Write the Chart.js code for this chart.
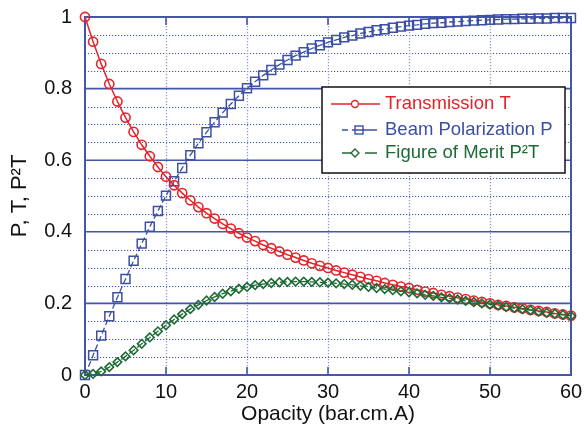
<!DOCTYPE html>
<html>
<head>
<meta charset="utf-8">
<script src="https://cdn.jsdelivr.net/npm/chart.js@4"></script>
<style>
  html, body { margin: 0; padding: 0; background: #fff; }
  #wrap { width: 585px; height: 438px; }
</style>
</head>
<body>
<div id="wrap"><canvas id="chart" width="585" height="438"></canvas></div>
<script>
/* Transmission, polarization and figure of merit vs opacity */
(function () {
  'use strict';

  var FONT = '"Liberation Sans", Arial, Helvetica, sans-serif';
  var RED = '#e3242b', BLUE = '#3c4fa3', GREEN = '#1d6b35';
  var GRID = '#4456aa', GRID_LIGHT = '#8d98cf';

  var opacity = [0, 1, 2, 3, 4, 5, 6, 7, 8, 9, 10, 11, 12, 13, 14, 15, 16, 17, 18, 19, 20,
    21, 22, 23, 24, 25, 26, 27, 28, 29, 30, 31, 32, 33, 34, 35, 36, 37, 38, 39, 40,
    41, 42, 43, 44, 45, 46, 47, 48, 49, 50, 51, 52, 53, 54, 55, 56, 57, 58, 59, 60];

  var transmission = [1.000, 0.931, 0.869, 0.813, 0.764, 0.719, 0.679, 0.643, 0.611, 0.581, 0.554,
    0.530, 0.508, 0.488, 0.469, 0.452, 0.437, 0.422, 0.409, 0.396, 0.384,
    0.374, 0.363, 0.354, 0.345, 0.336, 0.328, 0.320, 0.312, 0.305, 0.299,
    0.292, 0.286, 0.280, 0.274, 0.268, 0.263, 0.257, 0.252, 0.247, 0.243,
    0.238, 0.233, 0.229, 0.224, 0.220, 0.216, 0.212, 0.208, 0.204, 0.200,
    0.196, 0.193, 0.189, 0.186, 0.182, 0.179, 0.176, 0.172, 0.169, 0.166];

  var polarization = [0.000, 0.055, 0.110, 0.164, 0.217, 0.268, 0.319, 0.367, 0.414, 0.458, 0.501,
    0.541, 0.578, 0.614, 0.647, 0.678, 0.706, 0.733, 0.757, 0.780, 0.801,
    0.819, 0.837, 0.852, 0.867, 0.880, 0.892, 0.902, 0.912, 0.921, 0.929,
    0.936, 0.943, 0.948, 0.954, 0.958, 0.963, 0.966, 0.970, 0.973, 0.976,
    0.978, 0.981, 0.983, 0.984, 0.986, 0.987, 0.989, 0.990, 0.991, 0.992,
    0.993, 0.994, 0.994, 0.995, 0.995, 0.996, 0.996, 0.997, 0.997, 0.997];

  var merit = [0.000, 0.003, 0.010, 0.022, 0.036, 0.052, 0.069, 0.087, 0.105, 0.122, 0.139,
    0.155, 0.170, 0.184, 0.196, 0.208, 0.218, 0.227, 0.234, 0.241, 0.246,
    0.251, 0.254, 0.257, 0.259, 0.260, 0.261, 0.261, 0.260, 0.259, 0.258,
    0.256, 0.254, 0.252, 0.249, 0.246, 0.243, 0.240, 0.237, 0.234, 0.231,
    0.228, 0.224, 0.221, 0.217, 0.214, 0.211, 0.207, 0.204, 0.200, 0.197,
    0.194, 0.190, 0.187, 0.184, 0.181, 0.177, 0.174, 0.171, 0.168, 0.165];

  var xTicks = [0, 10, 20, 30, 40, 50, 60];
  var yTicks = [0, 0.2, 0.4, 0.6, 0.8, 1];

  function pts(arr) {
    return opacity.map(function (o, i) { return { x: o, y: arr[i] }; });
  }

  function hline(ctx, a, y) {
    ctx.beginPath(); ctx.moveTo(a.left, y); ctx.lineTo(a.right, y); ctx.stroke();
  }

  // grid, frame and tick marks drawn under the data
  var framePlugin = {
    id: 'frame',
    beforeDatasetsDraw: function (chart) {
      var ctx = chart.ctx, a = chart.chartArea;
      var xs = chart.scales.x, ys = chart.scales.y;
      ctx.save();

      // minor horizontal dotted lines every 0.05
      ctx.lineWidth = 1;
      ctx.strokeStyle = GRID;
      ctx.setLineDash([1.2, 1.8]);
      for (var k = 1; k < 20; k++) {
        if (k % 4 === 0) continue;
        hline(ctx, a, Math.round(ys.getPixelForValue(k * 0.05)) + 0.5);
      }

      // vertical dotted lines
      ctx.strokeStyle = GRID_LIGHT;
      ctx.lineWidth = 1.3;
      xTicks.slice(1, -1).forEach(function (v) {
        var x = Math.round(xs.getPixelForValue(v)) + 0.5;
        ctx.beginPath(); ctx.moveTo(x, a.top); ctx.lineTo(x, a.bottom); ctx.stroke();
      });
      ctx.setLineDash([]);

      // major horizontal solid lines
      ctx.strokeStyle = GRID;
      ctx.lineWidth = 1.6;
      yTicks.slice(1, -1).forEach(function (v) {
        hline(ctx, a, ys.getPixelForValue(v));
      });

      // short tick marks top and bottom
      xTicks.slice(1, -1).forEach(function (v) {
        var x = xs.getPixelForValue(v);
        ctx.beginPath();
        ctx.moveTo(x, a.bottom); ctx.lineTo(x, a.bottom - 8);
        ctx.moveTo(x, a.top); ctx.lineTo(x, a.top + 8);
        ctx.stroke();
      });

      // frame
      ctx.lineWidth = 2;
      ctx.strokeRect(a.left, a.top, a.right - a.left, a.bottom - a.top);
      ctx.restore();
    }
  };

  // boxed legend with line/marker samples
  var legendPlugin = {
    id: 'boxLegend',
    afterDraw: function (chart) {
      var ctx = chart.ctx;
      var bx = 322, by = 87, bw = 243, bh = 86;
      ctx.save();
      ctx.fillStyle = '#fff';
      ctx.fillRect(bx, by, bw, bh);
      ctx.strokeStyle = '#111';
      ctx.lineWidth = 1.5;
      ctx.strokeRect(bx, by, bw, bh);

      ctx.lineWidth = 1.4;
      // Transmission
      var y = 104;
      ctx.strokeStyle = RED;
      ctx.beginPath(); ctx.moveTo(331, y); ctx.lineTo(380, y); ctx.stroke();
      ctx.fillStyle = '#fff';
      ctx.beginPath(); ctx.arc(355, y, 3.5, 0, Math.PI * 2); ctx.fill(); ctx.stroke();

      // Polarization
      y = 130;
      ctx.strokeStyle = BLUE;
      ctx.beginPath();
      ctx.moveTo(342, y); ctx.lineTo(348, y);
      ctx.moveTo(352, y); ctx.lineTo(377, y);
      ctx.stroke();
      ctx.strokeRect(355, y - 4, 8, 8);

      // Figure of merit
      y = 153;
      ctx.strokeStyle = GREEN;
      ctx.beginPath();
      ctx.moveTo(342, y); ctx.lineTo(351, y);
      ctx.moveTo(365, y); ctx.lineTo(377, y);
      ctx.stroke();
      ctx.beginPath();
      ctx.moveTo(355, y - 4); ctx.lineTo(359, y); ctx.lineTo(355, y + 4); ctx.lineTo(351, y);
      ctx.closePath(); ctx.fill(); ctx.stroke();

      ctx.font = '18.5px ' + FONT;
      ctx.textBaseline = 'middle';
      ctx.textAlign = 'left';
      ctx.fillStyle = RED; ctx.fillText('Transmission T', 385, 104);
      ctx.fillStyle = BLUE; ctx.fillText('Beam Polarization P', 385, 130);
      ctx.fillStyle = GREEN; ctx.fillText('Figure of Merit P\u00B2T', 385, 153);
      ctx.restore();
    }
  };

  new Chart(document.getElementById('chart').getContext('2d'), {
    type: 'line',
    data: {
      datasets: [
        {
          label: 'Transmission T',
          data: pts(transmission),
          borderColor: RED, borderWidth: 1.5,
          pointStyle: 'circle', pointRadius: 4.6, pointBorderWidth: 1.6,
          pointBorderColor: RED, pointBackgroundColor: 'rgba(0,0,0,0)',
          order: 1, clip: false
        },
        {
          label: 'Beam Polarization P',
          data: pts(polarization),
          borderColor: BLUE, borderWidth: 1.3, borderDash: [6, 3],
          pointStyle: 'rect', pointRadius: 6.3, pointBorderWidth: 1.5,
          pointBorderColor: BLUE, pointBackgroundColor: 'rgba(0,0,0,0)',
          order: 2, clip: false
        },
        {
          label: 'Figure of Merit P\u00B2T',
          data: pts(merit),
          borderColor: GREEN, borderWidth: 1.3, borderDash: [7, 3],
          pointStyle: 'rectRot', pointRadius: 4.3, pointBorderWidth: 1.6,
          pointBorderColor: GREEN, pointBackgroundColor: 'rgba(0,0,0,0)',
          order: 0, clip: false
        }
      ]
    },
    options: {
      responsive: false,
      animation: false,
      layout: { padding: { top: 14, right: 14, bottom: 0, left: 0 } },
      plugins: { legend: { display: false }, tooltip: { enabled: false } },
      elements: { line: { tension: 0 } },
      scales: {
        x: {
          type: 'linear', min: 0, max: 60,
          afterBuildTicks: function (s) { s.ticks = xTicks.map(function (v) { return { value: v }; }); },
          afterFit: function (s) { s.height = 63; },
          grid: { display: false },
          border: { display: false },
          ticks: { color: '#111', padding: -3, maxRotation: 0, font: { family: FONT, size: 20 } },
          title: { display: true, text: 'Opacity (bar.cm.A)', color: '#111',
                   padding: { top: 0, bottom: 11 }, font: { family: FONT, size: 21 } }
        },
        y: {
          min: 0, max: 1,
          afterBuildTicks: function (s) { s.ticks = yTicks.map(function (v) { return { value: v }; }); },
          afterFit: function (s) { s.width = 85; },
          grid: { display: false },
          border: { display: false },
          ticks: { color: '#111', padding: 5, font: { family: FONT, size: 20 },
                   callback: function (v) { return String(Math.round(v * 10) / 10); } },
          title: { display: true, text: 'P, T, P\u00B2T', color: '#111',
                   padding: { top: 7, bottom: 0 }, font: { family: FONT, size: 22 } }
        }
      }
    },
    plugins: [framePlugin, legendPlugin]
  });
})();
</script>
</body>
</html>
